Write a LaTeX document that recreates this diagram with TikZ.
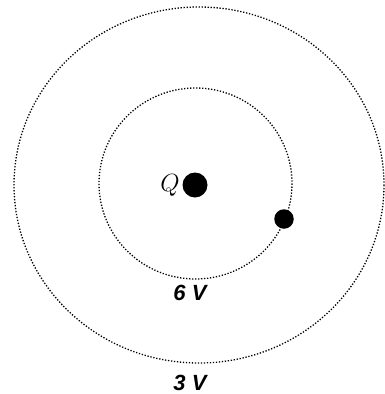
\documentclass[tikz,border=0pt]{standalone}
\usepackage{fontspec}
\usepackage{tikz}
\usetikzlibrary{positioning}
\newfontfamily\voltfont{Liberation Sans}

\begin{document}
\begin{tikzpicture}[
  x=1pt, y=-1pt,
  equi/.style={draw=black, line width=1.3pt, dash pattern=on 1.3pt off 1.7pt},
  charge/.style={circle, fill=black, inner sep=0pt},
  volt/.style={inner sep=0pt, font=\voltfont\fontsize{22}{26}\selectfont\bfseries\itshape}
]
\useasboundingbox (0,0) rectangle (385,394);
\draw[equi] (199,185) ellipse [x radius=185, y radius=178];
\draw[equi] (195.5,183.5) ellipse [x radius=96.5, y radius=95.5];
\node[charge, minimum size=25pt] (big) at (195,185) {};
\node[left=-1pt of big, font=\fontsize{24}{28}\selectfont] (qlab) {$Q$};
\node[charge, minimum size=19.5pt] (small) at (284,219) {};
\node[volt] (inner) at (190,293) {6 V};
\node[volt] (outer) at (190,383) {3 V};
\end{tikzpicture}
\end{document}
